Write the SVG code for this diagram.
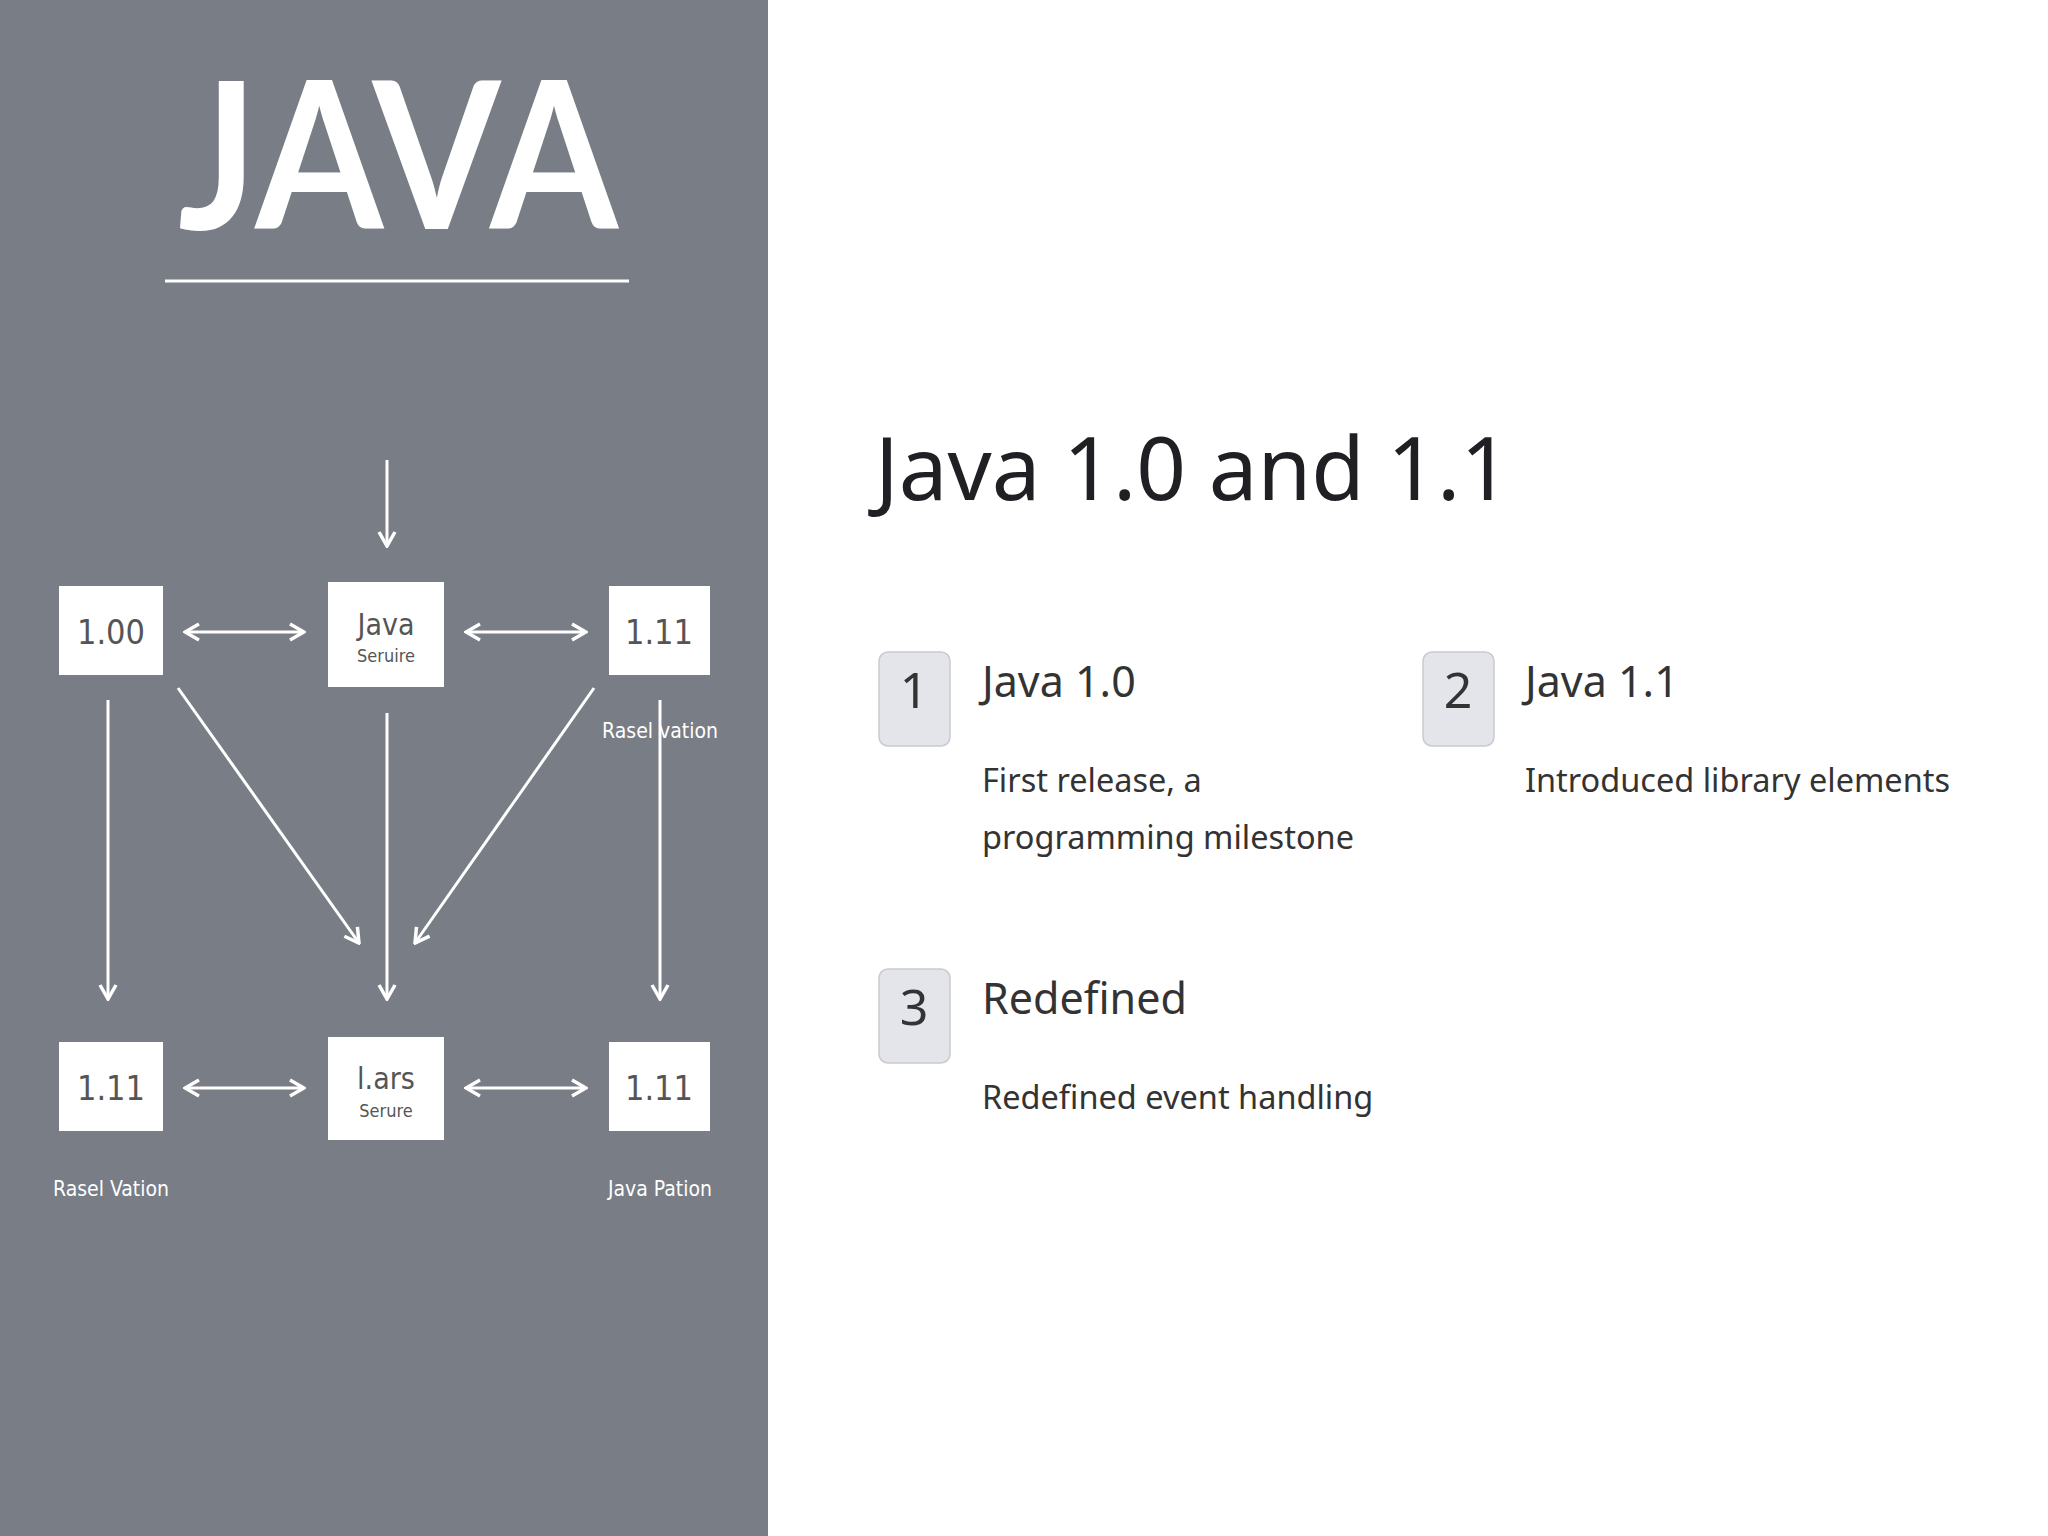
<svg xmlns="http://www.w3.org/2000/svg" width="2048" height="1536" viewBox="0 0 2048 1536">
<style>
.box{fill:#fff}
.bt{font-family:"DejaVu Sans Condensed","DejaVu Sans",sans-serif;font-stretch:condensed;fill:#555;text-anchor:middle}
.ln{stroke:#fff;stroke-width:3;fill:none}
.lb{font-family:"DejaVu Sans Condensed","DejaVu Sans",sans-serif;font-stretch:condensed;font-size:21px;fill:#fff;text-anchor:middle}
.badge{fill:#e4e5ea;stroke:#c8cad0;stroke-width:1.5}
.num{font-family:"Noto Sans",sans-serif;font-size:50px;fill:#333;text-anchor:middle}
.hd{font-family:"Noto Sans",sans-serif;font-size:43px;fill:#333}
.ds{font-family:"Noto Sans",sans-serif;font-size:32.5px;fill:#333}
</style>
<defs>
<marker id="ah" viewBox="0 0 20 20" refX="18" refY="10" markerWidth="20" markerHeight="20" orient="auto-start-reverse" markerUnits="userSpaceOnUse"><path d="M4,2 L18,10 L4,18" fill="none" stroke="#fff" stroke-width="3.5"/></marker>
</defs>
<rect width="2048" height="1536" fill="#fff"/>
<rect width="768" height="1536" fill="#787d86"/>
<text x="178" y="229" font-family="Lato,sans-serif" font-weight="bold" font-size="205" fill="#fff" textLength="440" lengthAdjust="spacingAndGlyphs">JAVA</text>
<line x1="165" y1="281" x2="629" y2="281" stroke="#fff" stroke-width="3"/>
<g id="connectors">
<line class="ln" x1="387" y1="460" x2="387" y2="546" marker-end="url(#ah)"/>
<line class="ln" x1="185" y1="632" x2="304" y2="632" marker-start="url(#ah)" marker-end="url(#ah)"/>
<line class="ln" x1="466" y1="632" x2="586" y2="632" marker-start="url(#ah)" marker-end="url(#ah)"/>
<line class="ln" x1="185" y1="1088" x2="304" y2="1088" marker-start="url(#ah)" marker-end="url(#ah)"/>
<line class="ln" x1="466" y1="1088" x2="586" y2="1088" marker-start="url(#ah)" marker-end="url(#ah)"/>
<line class="ln" x1="108" y1="700" x2="108" y2="999" marker-end="url(#ah)"/>
<line class="ln" x1="387" y1="713" x2="387" y2="999" marker-end="url(#ah)"/>
<line class="ln" x1="660" y1="700" x2="660" y2="999" marker-end="url(#ah)"/>
<line class="ln" x1="178" y1="688" x2="359" y2="943" marker-end="url(#ah)"/>
<line class="ln" x1="594" y1="688" x2="415" y2="943" marker-end="url(#ah)"/>
</g>
<g id="n100"><rect class="box" x="59" y="586" width="104" height="89"/><text class="bt" x="111" y="644" font-size="34">1.00</text></g>
<g id="njava"><rect class="box" x="328" y="582" width="116" height="105"/><text class="bt" x="386" y="635" font-size="30">Java</text><text class="bt" x="386" y="662" font-size="18">Seruire</text></g>
<g id="n111a"><rect class="box" x="609" y="586" width="101" height="89"/><text class="bt" x="659" y="644" font-size="34">1.11</text></g>
<g id="n111b"><rect class="box" x="59" y="1042" width="104" height="89"/><text class="bt" x="111" y="1100" font-size="34">1.11</text></g>
<g id="nlars"><rect class="box" x="328" y="1037" width="116" height="103"/><text class="bt" x="386" y="1089" font-size="30">l.ars</text><text class="bt" x="386" y="1117" font-size="18">Serure</text></g>
<g id="n111c"><rect class="box" x="609" y="1042" width="101" height="89"/><text class="bt" x="659" y="1100" font-size="34">1.11</text></g>
<text class="lb" x="660" y="738">Rasel vation</text>
<text class="lb" x="111" y="1196">Rasel Vation</text>
<text class="lb" x="660" y="1196">Java Pation</text>
<text x="875" y="500" font-family="Noto Sans,sans-serif" font-size="87" fill="#1f1f24">Java 1.0 and 1.1</text>
<g id="item1"><rect class="badge" x="879" y="652" width="71" height="94" rx="9"/><text class="num" x="914" y="708">1</text><text class="hd" x="982" y="697">Java 1.0</text><text class="ds" x="982" y="792">First release, a</text><text class="ds" x="982" y="849">programming milestone</text></g>
<g id="item2"><rect class="badge" x="1423" y="652" width="71" height="94" rx="9"/><text class="num" x="1458" y="708">2</text><text class="hd" x="1525" y="697">Java 1.1</text><text class="ds" x="1525" y="792">Introduced library elements</text></g>
<g id="item3"><rect class="badge" x="879" y="969" width="71" height="94" rx="9"/><text class="num" x="914" y="1025">3</text><text class="hd" x="982" y="1014">Redefined</text><text class="ds" x="982" y="1109">Redefined event handling</text></g>
</svg>
